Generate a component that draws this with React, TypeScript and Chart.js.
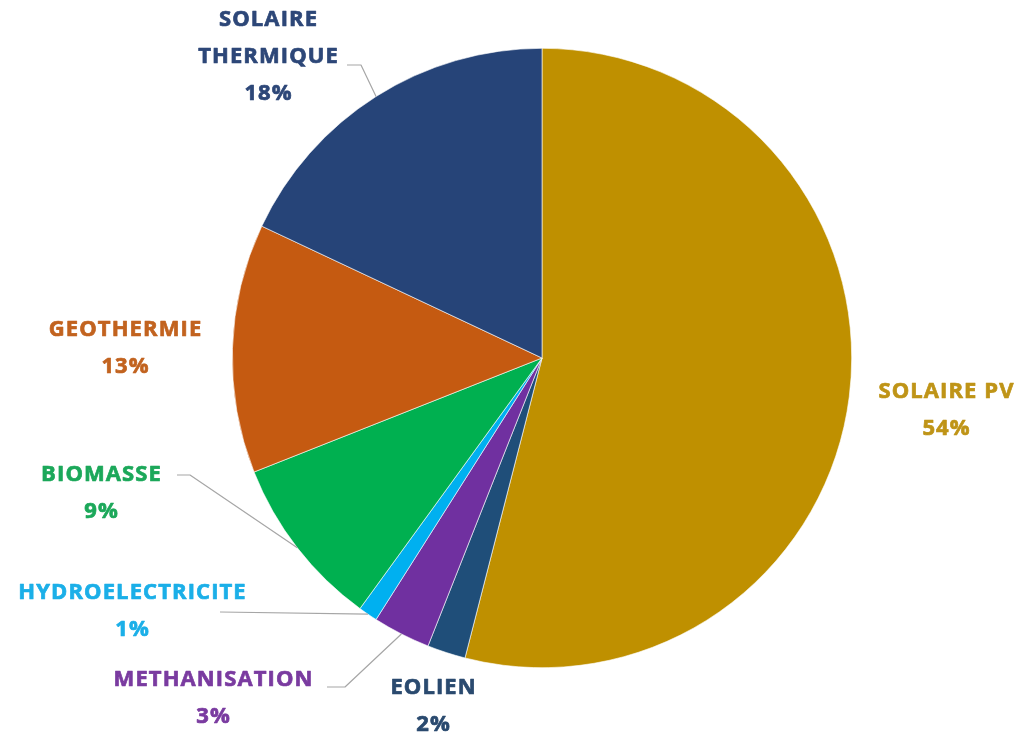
import React, { useEffect, useRef } from "react";
import { Chart, registerables } from "chart.js";

Chart.register(...registerables);

const categories = [
  "SOLAIRE PV",
  "EOLIEN",
  "METHANISATION",
  "HYDROELECTRICITE",
  "BIOMASSE",
  "GEOTHERMIE",
  "SOLAIRE THERMIQUE",
];
const values = [54, 2, 3, 1, 9, 13, 18];
const sliceColors = ["#BF9000", "#1F4E79", "#7030A0", "#00B0F0", "#00B050", "#C55A11", "#264478"];
const textColors = ["#BF9417", "#2A4A6F", "#7A3BA0", "#1BAFE8", "#1CA85A", "#C2631F", "#2D4778"];
const labelLines = [
  ["SOLAIRE PV"],
  ["EOLIEN"],
  ["METHANISATION"],
  ["HYDROELECTRICITE"],
  ["BIOMASSE"],
  ["GEOTHERMIE"],
  ["SOLAIRE", "THERMIQUE"],
];

// label layout: centre of first text line relative to pie centre (px); optional leader start + elbow
const labelLayout = [
  { dx: 404, dy: 34, leader: null },
  { dx: -109, dy: 330, leader: null },
  { dx: -329, dy: 322, leader: [[-215, 329], [-197, 329]] },
  { dx: -410, dy: 235, leader: [[-322, 254]] },
  { dx: -441, dy: 117, leader: [[-365, 117], [-352, 117]] },
  { dx: -417, dy: -28, leader: null },
  { dx: -274, dy: -338, leader: [[-195, -293], [-181, -293]] },
];

const labelPlugin = {
  id: "pieLabels",
  afterDraw(chart: any) {
    const ctx = chart.ctx;
    const meta = chart.getDatasetMeta(0);
    const lineH = 37;
    const ls = 1.1;
    ctx.save();
    meta.data.forEach((arc: any, i: number) => {
      const cx = arc.x;
      const cy = arc.y;
      const lay = labelLayout[i];
      const mid = (arc.startAngle + arc.endAngle) / 2;
      const ax = cx + Math.cos(mid) * arc.outerRadius;
      const ay = cy + Math.sin(mid) * arc.outerRadius;
      if (lay.leader) {
        ctx.beginPath();
        ctx.strokeStyle = "#A6A6A6";
        ctx.lineWidth = 1.2;
        lay.leader.forEach((p, k) => {
          const x = cx + p[0];
          const y = cy + p[1];
          if (k === 0) ctx.moveTo(x, y);
          else ctx.lineTo(x, y);
        });
        ctx.lineTo(ax, ay);
        ctx.stroke();
      }
      const pct = Math.round(values[i]) + "%";
      const lines = [...labelLines[i], pct];
      ctx.fillStyle = textColors[i];
      ctx.strokeStyle = textColors[i];
      ctx.lineWidth = 0.7;
      ctx.lineJoin = "round";
      ctx.font = "bold 22px 'Open Sans', Lato, sans-serif";
      (ctx as any).letterSpacing = ls + "px";
      ctx.textAlign = "center";
      ctx.textBaseline = "middle";
      lines.forEach((t, k) => {
        const x = cx + lay.dx + ls / 2;
        const y = cy + lay.dy + k * lineH;
        ctx.fillText(t, x, y);
        ctx.strokeText(t, x, y);
      });
    });
    ctx.restore();
  },
};

export default function App() {
  const ref = useRef<HTMLCanvasElement | null>(null);
  useEffect(() => {
    document.body.style.margin = "0";
    const chart = new Chart(ref.current as HTMLCanvasElement, {
      type: "pie",
      data: {
        labels: categories,
        datasets: [
          {
            data: values,
            backgroundColor: sliceColors,
            borderColor: "#FFFFFF",
            borderWidth: 0.6,
          },
        ],
      },
      options: {
        responsive: false,
        animation: false,
        layout: { padding: { left: 232, right: 170, top: 48, bottom: 65 } },
        plugins: {
          legend: { display: false },
          tooltip: { enabled: false },
        },
      },
      plugins: [labelPlugin],
    });
    return () => chart.destroy();
  }, []);
  return (
    <div style={{ position: "absolute", left: 0, top: 0, width: 1022, height: 733, background: "#fff" }}>
      <canvas ref={ref} width={1022} height={733} />
    </div>
  );
}
